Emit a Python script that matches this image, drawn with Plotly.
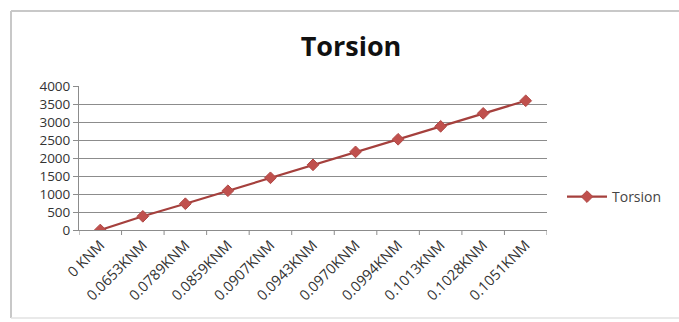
import plotly.graph_objects as go

# Torsional moment applied at each step and the measured torsion value
moment_labels = ["0 KNM", "0.0653KNM", "0.0789KNM", "0.0859KNM", "0.0907KNM",
                 "0.0943KNM", "0.0970KNM", "0.0994KNM", "0.1013KNM",
                 "0.1028KNM", "0.1051KNM"]
torsion_values = [0, 380, 730, 1090, 1450, 1810, 2170, 2520, 2880, 3240, 3590]
y_ticks = [0, 500, 1000, 1500, 2000, 2500, 3000, 3500, 4000]

W, H = 679, 322
L, R, T, B = 79, 132, 86, 92
pw, ph = W - L - R, H - T - B

def px_x(x):
    return (x - L) / pw

def px_y(y):
    return (H - B - y) / ph

fig = go.Figure()
fig.add_trace(go.Scatter(
    x=list(range(len(moment_labels))), y=torsion_values,
    mode="lines+markers", name="Torsion",
    line=dict(color="#A5403D", width=2.2),
    marker=dict(symbol="diamond", size=9, color="#C0504D",
                line=dict(color="#B04845", width=1)),
))

fig.update_layout(
    width=W, height=H,
    margin=dict(l=L, r=R, t=T, b=B),
    paper_bgcolor="white", plot_bgcolor="white",
    font=dict(family="Open Sans, DejaVu Sans, sans-serif", color="#333333"),
    title=dict(text="<b>Torsion</b>", x=px_x(351), xanchor="center",
               xref="paper", y=1 - 47 / H, yanchor="middle",
               font=dict(size=27, color="#111111",
                         family="Open Sans, DejaVu Sans, sans-serif")),
    showlegend=True,
    legend=dict(x=px_x(562), y=px_y(197), xanchor="left", yanchor="middle",
                bgcolor="rgba(0,0,0,0)", font=dict(size=14, color="#444444"),
                itemwidth=40),
    xaxis=dict(
        tickmode="array", tickvals=list(range(len(moment_labels))),
        ticktext=moment_labels, tickangle=-45,
        range=[-0.5, len(moment_labels) - 0.5],
        showgrid=False, zeroline=False,
        showline=True, linecolor="#8C8C8C", linewidth=1,
        ticks="", tickfont=dict(size=14.5, color="#333333"),
    ),
    yaxis=dict(
        range=[0, 4000], tickvals=y_ticks,
        showgrid=True, gridcolor="#8C8C8C", gridwidth=1,
        zeroline=False, showline=True, linecolor="#8C8C8C", linewidth=1,
        ticks="outside", ticklen=5, tickcolor="#8C8C8C",
        tickfont=dict(size=13.5, color="#333333"),
    ),
)

# Category separator ticks below the x axis
for i in range(len(moment_labels) + 1):
    fig.add_shape(type="line", xref="x", yref="paper",
                  x0=i - 0.5, x1=i - 0.5, y0=0, y1=-5 / ph,
                  line=dict(color="#8C8C8C", width=1))

# Outer chart frame: left, top and a faint bottom edge
fig.add_shape(type="line", xref="paper", yref="paper",
              x0=px_x(11), x1=px_x(11), y0=px_y(318), y1=px_y(11),
              line=dict(color="#C8C8C8", width=2), layer="below")
fig.add_shape(type="line", xref="paper", yref="paper",
              x0=px_x(11), x1=px_x(W + 10), y0=px_y(11), y1=px_y(11),
              line=dict(color="#C8C8C8", width=2), layer="below")
fig.add_shape(type="line", xref="paper", yref="paper",
              x0=px_x(11), x1=px_x(W + 10), y0=px_y(318), y1=px_y(318),
              line=dict(color="#E2E2E2", width=1.5), layer="below")

fig.write_html("out.html")
